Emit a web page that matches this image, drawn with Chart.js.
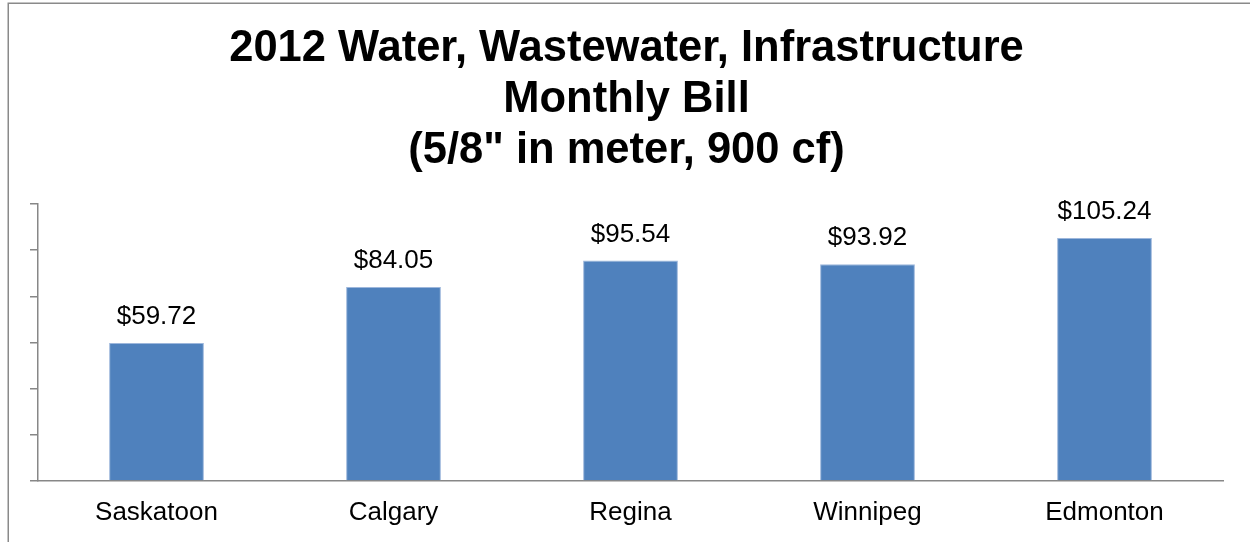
<!DOCTYPE html>
<html>
<head>
<meta charset="utf-8">
<script src="https://cdn.jsdelivr.net/npm/chart.js@4"></script>
<style>
  html, body { margin: 0; padding: 0; background: #fff; }
  #wrap { position: relative; width: 1250px; height: 542px; }
</style>
</head>
<body>
<div id="wrap"><canvas id="c" width="1250" height="542"></canvas></div>
<script>
const titleLines = ['2012 Water, Wastewater, Infrastructure', 'Monthly Bill', '(5/8" in meter, 900 cf)'];
const cities = ['Saskatoon', 'Calgary', 'Regina', 'Winnipeg', 'Edmonton'];
const monthlyBill = [59.72, 84.05, 95.54, 93.92, 105.24];
const yMin = 0, yMax = 120, yStep = 20;

const FONT = "'Liberation Sans', Arial, sans-serif";
const AXIS = '#878787';

const framePlugin = {
  id: 'frame',
  afterLayout(chart) {
    const t = chart.titleBlock;
    if (t) { t.left += 11; t.right += 11; }
  },
  beforeDraw(chart) {
    const ctx = chart.ctx;
    ctx.save();
    ctx.fillStyle = '#fff';
    ctx.fillRect(0, 0, chart.width, chart.height);
    ctx.strokeStyle = '#8a8a8a';
    ctx.lineWidth = 1.5;
    ctx.beginPath();
    ctx.moveTo(8.25, chart.height);
    ctx.lineTo(8.25, 3.25);
    ctx.lineTo(chart.width, 3.25);
    ctx.stroke();
    ctx.restore();
  }
};

const valueLabels = {
  id: 'valueLabels',
  afterDatasetsDraw(chart) {
    const ctx = chart.ctx;
    const meta = chart.getDatasetMeta(0);
    ctx.save();
    ctx.font = '26px ' + FONT;
    ctx.fillStyle = '#000';
    ctx.textAlign = 'center';
    ctx.textBaseline = 'middle';
    meta.data.forEach((bar, i) => {
      ctx.fillText('$' + monthlyBill[i].toFixed(2), bar.x, bar.y - 26);
    });
    ctx.restore();
  }
};

new Chart(document.getElementById('c'), {
  type: 'bar',
  data: {
    labels: cities,
    datasets: [{
      data: monthlyBill,
      backgroundColor: '#4F81BD',
      borderColor: '#9DB7DC',
      borderWidth: 1,
      categoryPercentage: 1,
      barPercentage: 0.4
    }]
  },
  options: {
    responsive: false,
    animation: false,
    layout: { padding: { left: 8, right: 27, top: 0, bottom: 0 } },
    plugins: {
      legend: { display: false },
      tooltip: { enabled: false },
      title: {
        display: true,
        text: titleLines,
        color: '#000',
        font: { family: FONT, size: 43.5, weight: 'bold', lineHeight: 1.172 },
        padding: { top: 24, bottom: 27 }
      }
    },
    scales: {
      x: {
        offset: true,
        grid: { display: false, drawTicks: false },
        border: { display: true, color: AXIS, width: 1.5 },
        ticks: { color: '#000', font: { family: FONT, size: 26 }, padding: 16, maxRotation: 0 },
        afterFit(s) { s.height = 61; }
      },
      y: {
        min: yMin, max: yMax,
        ticks: { display: false, stepSize: yStep },
        grid: { drawOnChartArea: false, drawTicks: true, tickLength: 8, color: AXIS, lineWidth: 1.5 },
        border: { display: true, color: AXIS, width: 1.5 },
        afterFit(s) { s.width = 30; }
      }
    }
  },
  plugins: [framePlugin, valueLabels]
});
</script>
</body>
</html>
